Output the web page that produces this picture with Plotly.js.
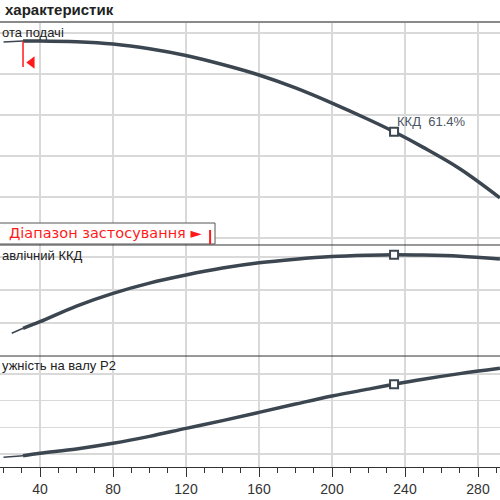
<!DOCTYPE html>
<html>
<head>
<meta charset="utf-8">
<script src="https://cdn.plot.ly/plotly-3.0.1.min.js"></script>
<style>html,body{margin:0;padding:0;background:#fff;}#chart{width:500px;height:500px;}</style>
</head>
<body>
<div id="chart"></div>
<script>
// Head curve (panel 1)
const flowHead = [20, 30.7, 40, 60, 80, 100, 120, 140, 160, 180, 200, 220, 234, 250, 270, 292];
const headValues = [57.8, 58.05, 58.05, 57.85, 57.3, 56.15, 54.5, 52.3, 49.75, 46.6, 42.9, 38.9, 35.9, 32.1, 26.9, 19.8];
// Hydraulic efficiency (panel 2), %
const flowEff = [24.5, 30.7, 40, 60, 80, 100, 120, 140, 160, 180, 200, 220, 234, 250, 270, 292];
const effValues = [13.8, 16.8, 20.8, 30.3, 38.0, 44.2, 49.1, 53.3, 56.5, 58.7, 60.3, 61.1, 61.4, 61.2, 60.5, 58.8];
// Shaft power P2 (panel 3)
const flowPow = [20, 30.7, 40, 60, 80, 100, 120, 140, 160, 180, 200, 220, 234, 250, 270, 292];
const powValues = [0.876, 0.936, 1.026, 1.19, 1.40, 1.66, 1.96, 2.25, 2.56, 2.87, 3.17, 3.43, 3.61, 3.80, 4.01, 4.21];
// Duty point
const dutyQ = [234];
const dutyH = [35.9];
const dutyEff = [61.4];
const dutyP = [3.61];
const dutyLabel = "ККД\u00a0\u00a061.4%";
// Application range
const rangeStartQ = 30.7;
const rangeEndQ = 133.2;
const rangeBoxEndQ = 135.9;
const rangeMarkQ = [35.5];
const rangeMarkH = [52.8];
// Texts
const titleText = "характеристик";
const panelLabels = ["ота подачі", "авлічний ККД", "ужність на валу P2"];
const rangeText = "Діапазон застосування ►";

const curveColor = "#3b4650";
const gridColor = "#d9d9d9";
const FONT = "Liberation Sans, Arial, sans-serif";
const nStart = 2; // points of thin (out-of-range) segment

function split(q, v, ax) {
  return [
    {x: q.slice(0, nStart), y: v.slice(0, nStart), xaxis: 'x', yaxis: ax, mode: 'lines',
     line: {color: curveColor, width: 1.5}, hoverinfo: 'skip'},
    {x: q.slice(nStart - 1), y: v.slice(nStart - 1), xaxis: 'x', yaxis: ax, mode: 'lines',
     line: {color: curveColor, width: 3.5, shape: 'spline', smoothing: 1}, hoverinfo: 'skip'}
  ];
}
const dutyMarker = {symbol: 'square', size: 8, color: '#fff', line: {color: curveColor, width: 2}};

const traces = [].concat(
  split(flowHead, headValues, 'y'),
  split(flowEff, effValues, 'y2'),
  split(flowPow, powValues, 'y3'),
  [
    {x: dutyQ, y: dutyH, xaxis: 'x', yaxis: 'y', mode: 'markers', marker: dutyMarker},
    {x: dutyQ, y: dutyEff, xaxis: 'x', yaxis: 'y2', mode: 'markers', marker: dutyMarker},
    {x: dutyQ, y: dutyP, xaxis: 'x', yaxis: 'y3', mode: 'markers', marker: dutyMarker},
    {x: rangeMarkQ, y: rangeMarkH, xaxis: 'x', yaxis: 'y', mode: 'markers',
     marker: {symbol: 'triangle-left', size: 11, color: '#ff1a1a'}}
  ]
);

const d1 = 0.4989, d2 = 0.2494;
const yCommon = {showticklabels: false, ticks: '', zeroline: false, showline: false,
                 gridcolor: gridColor, gridwidth: 1.5, anchor: 'x', fixedrange: true};

const layout = {
  width: 500, height: 500,
  margin: {l: 0, r: 0, t: 22, b: 33, pad: 0},
  paper_bgcolor: '#fff', plot_bgcolor: '#fff',
  showlegend: false,
  font: {family: FONT, color: '#333'},
  xaxis: {range: [18.08, 292.05], anchor: 'y3', tick0: 0, dtick: 40,
          showgrid: true, gridcolor: gridColor, gridwidth: 1.5, zeroline: false,
          showline: true, linecolor: '#333', linewidth: 1,
          ticks: 'outside', ticklen: 9, tickwidth: 1, tickcolor: '#333',
          tickfont: {family: FONT, size: 14, color: '#333'},
          minor: {dtick: 10, tick0: 0, ticks: 'outside', ticklen: 5, tickcolor: '#333', tickwidth: 1, showgrid: false}},
  yaxis: Object.assign({domain: [d1, 1], range: [8.29, 62.68], tick0: 0, dtick: 10}, yCommon),
  yaxis2: Object.assign({domain: [d2, d1], range: [0, 67.3], tick0: 0, dtick: 20}, yCommon),
  yaxis3: Object.assign({domain: [0, d2], range: [0.513, 4.67], tick0: 0, dtick: 1}, yCommon),
  shapes: [
    {type: 'line', xref: 'paper', yref: 'paper', x0: 0, x1: 1, y0: 1, y1: 1, line: {color: '#8a8a8a', width: 2}},
    {type: 'line', xref: 'paper', yref: 'paper', x0: 0, x1: 1, y0: d1, y1: d1, line: {color: '#333', width: 1}},
    {type: 'line', xref: 'paper', yref: 'paper', x0: 0, x1: 1, y0: d2, y1: d2, line: {color: '#333', width: 1}},
    {type: 'line', xref: 'x', yref: 'y', x0: rangeStartQ, x1: rangeStartQ, y0: 58.0, y1: 51.7, line: {color: '#ff1a1a', width: 1.5}},
    {type: 'rect', xref: 'x', yref: 'paper', x0: 10, x1: rangeBoxEndQ, y0: 0.5011, y1: 0.5483,
     fillcolor: '#fff', line: {color: '#555', width: 1}, layer: 'above'},
    {type: 'line', xref: 'x', yref: 'paper', x0: rangeEndQ, x1: rangeEndQ, y0: 0.5011, y1: 0.5326, line: {color: '#ff1a1a', width: 2}, layer: 'above'}
  ],
  annotations: [
    {xref: 'paper', yref: 'paper', x: 0.006, y: 1.027, xanchor: 'left', yanchor: 'middle', showarrow: false,
     text: '<b>' + titleText + '</b>', font: {family: FONT, size: 15, color: '#222'}},
    {xref: 'paper', yref: 'paper', x: 0, y: 0.9775, xanchor: 'left', yanchor: 'middle', showarrow: false,
     text: panelLabels[0], font: {family: FONT, size: 13, color: '#222'}},
    {xref: 'paper', yref: 'paper', x: 0, y: 0.4764, xanchor: 'left', yanchor: 'middle', showarrow: false,
     text: panelLabels[1], font: {family: FONT, size: 13, color: '#222'}},
    {xref: 'paper', yref: 'paper', x: 0, y: 0.2270, xanchor: 'left', yanchor: 'middle', showarrow: false,
     text: panelLabels[2], font: {family: FONT, size: 13, color: '#222'}},
    {xref: 'x', yref: 'y', x: 234.5, y: 38.3, xanchor: 'left', yanchor: 'middle', showarrow: false,
     text: dutyLabel, font: {family: FONT, size: 13, color: '#4a5663'}},
    {xref: 'paper', yref: 'paper', x: 0.014, y: 0.5258, xanchor: 'left', yanchor: 'middle', showarrow: false,
     text: rangeText, font: {family: "DejaVu Sans, sans-serif", size: 14.5, color: '#ff1a1a'}}
  ]
};

Plotly.newPlot('chart', traces, layout, {staticPlot: true, displayModeBar: false});
</script>
</body>
</html>
